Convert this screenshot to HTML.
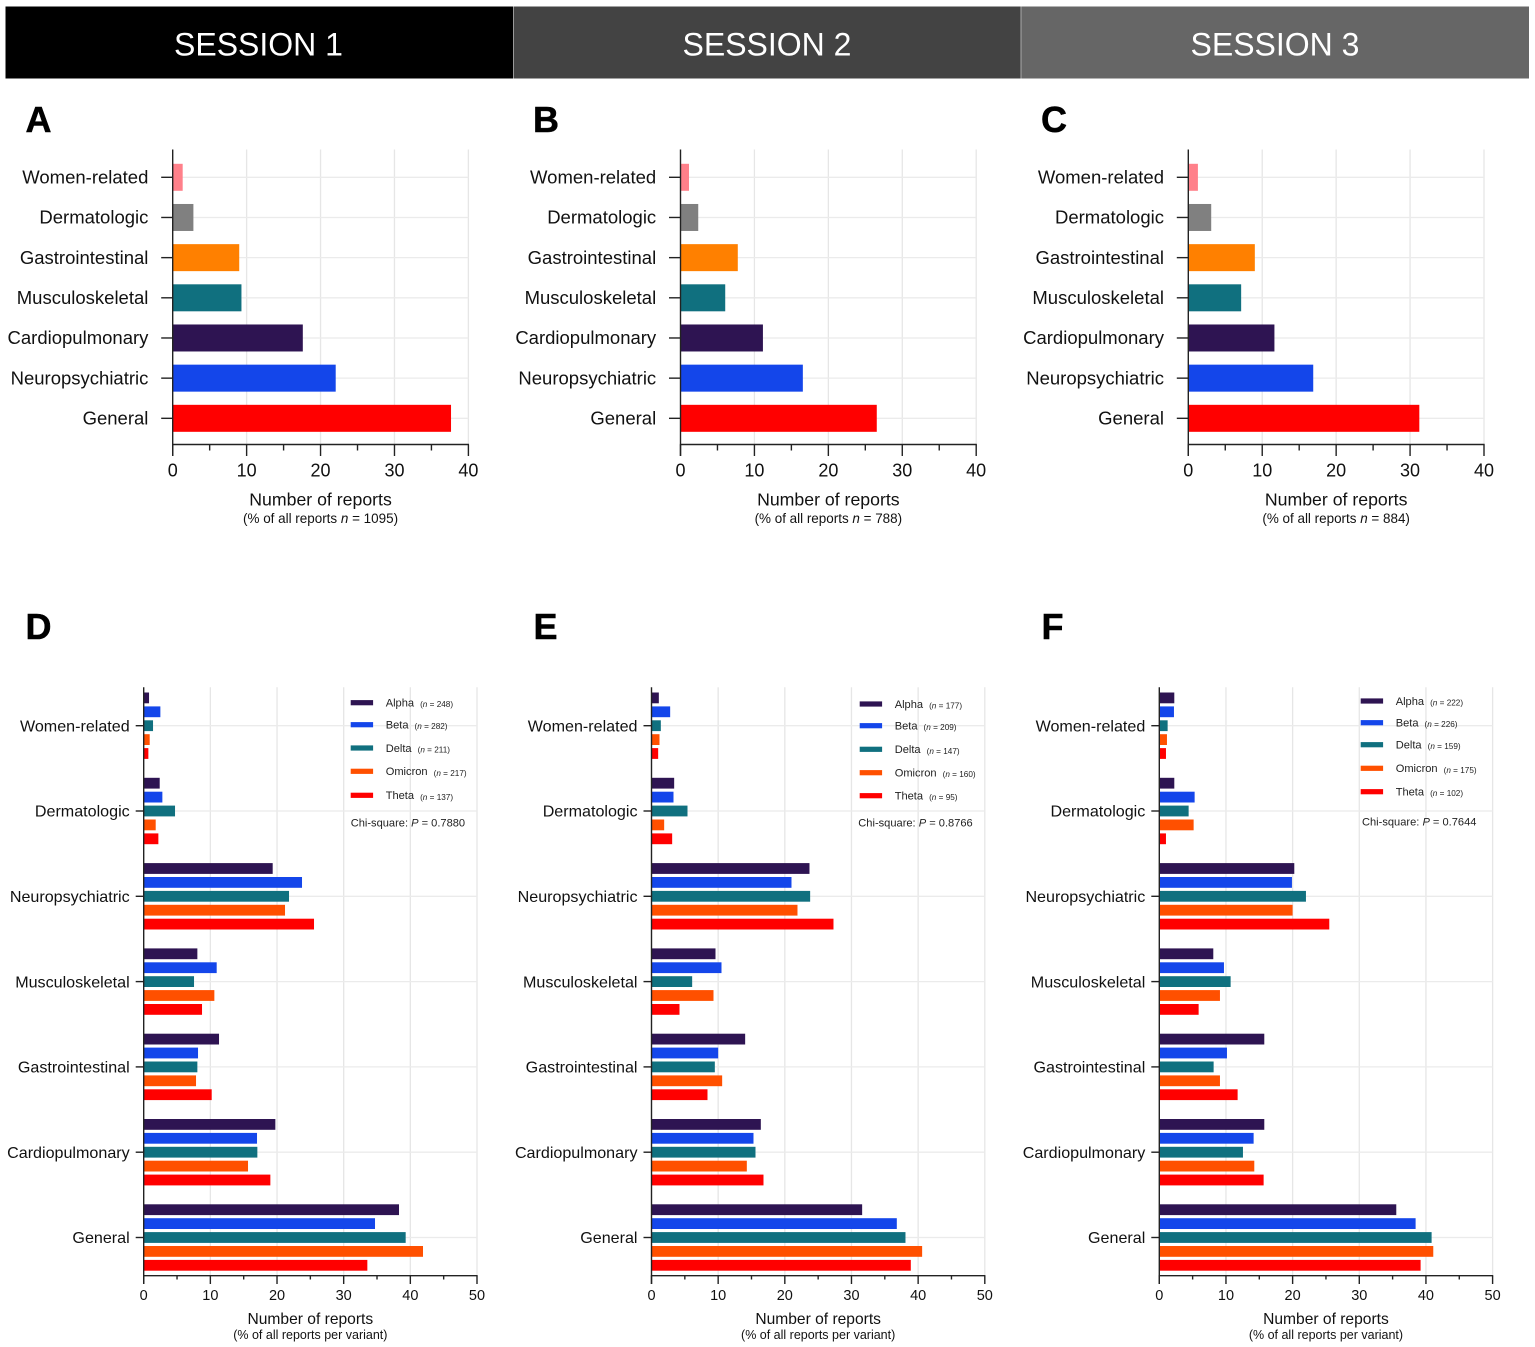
<!DOCTYPE html>
<html lang="en">
<head>
<meta charset="utf-8">
<title>Reports by session and variant</title>
<style>
html,body{margin:0;padding:0;background:#fff;}
svg{display:block;font-family:"Liberation Sans",Arial,sans-serif;filter:blur(0.35px);}
</style>
</head>
<body>
<svg id="figure" xmlns="http://www.w3.org/2000/svg" width="1535" height="1347" viewBox="0 0 1535 1347">
  <rect x="0" y="0" width="1535" height="1347" fill="#ffffff"/>
  <g>
    <rect x="5.5" y="6.5" width="508" height="72" fill="#000000"/>
    <rect x="513.5" y="6.5" width="507.5" height="72" fill="#434343"/>
    <rect x="1021" y="6.5" width="508" height="72" fill="#666666"/>
    <line x1="513.5" y1="6.5" x2="513.5" y2="78.5" stroke="#9a9a9a" stroke-width="1"/>
    <line x1="1021" y1="6.5" x2="1021" y2="78.5" stroke="#a8a8a8" stroke-width="1"/>
    <text x="258.5" y="55.3" font-size="32" fill="#ffffff" text-anchor="middle">SESSION 1</text>
    <text x="767" y="55.3" font-size="32" fill="#ffffff" text-anchor="middle">SESSION 2</text>
    <text x="1275" y="55.3" font-size="32" fill="#ffffff" text-anchor="middle">SESSION 3</text>
  </g>
  <g font-size="36" font-weight="bold" fill="#000000" stroke="#000000" stroke-width="0.5">
    <text x="25.5" y="132">A</text>
    <text x="533" y="132">B</text>
    <text x="1041" y="132">C</text>
    <text x="25.5" y="639">D</text>
    <text x="533.5" y="639">E</text>
    <text x="1041.5" y="639">F</text>
  </g>
</svg>
<script>
// ---- Top row (panels A, B, C) ----
const topCategories = ["Women-related", "Dermatologic", "Gastrointestinal", "Musculoskeletal", "Cardiopulmonary", "Neuropsychiatric", "General"];
const topColors = ["#ff808a", "#808080", "#ff8000", "#10707f", "#2e1452", "#1446ea", "#ff0000"];
const panelAValues = [1.35, 2.8, 9.0, 9.3, 17.6, 22.05, 37.65];
const panelBValues = [1.15, 2.4, 7.75, 6.05, 11.15, 16.55, 26.55];
const panelCValues = [1.3, 3.1, 9.0, 7.15, 11.65, 16.9, 31.25];
const topTicks = [0, 10, 20, 30, 40];
const topMinorTicks = [5, 15, 25, 35];
const topTotals = ["1095", "788", "884"];

// ---- Bottom row (panels D, E, F) ----
const bottomCategories = ["Women-related", "Dermatologic", "Neuropsychiatric", "Musculoskeletal", "Gastrointestinal", "Cardiopulmonary", "General"];
const variantNames = ["Alpha", "Beta", "Delta", "Omicron", "Theta"];
const variantColors = ["#2e1452", "#1446ea", "#10707f", "#ff5000", "#ff0000"];
const bottomTicks = [0, 10, 20, 30, 40, 50];
const bottomMinorTicks = [5, 15, 25, 35, 45];

const panelDAlpha = [0.8, 2.4, 19.35, 8.05, 11.3, 19.75, 38.3];
const panelDBeta = [2.5, 2.8, 23.75, 10.95, 8.15, 17.0, 34.7];
const panelDDelta = [1.4, 4.7, 21.8, 7.55, 8.05, 17.05, 39.3];
const panelDOmicron = [0.9, 1.8, 21.2, 10.6, 7.85, 15.65, 41.9];
const panelDTheta = [0.7, 2.2, 25.55, 8.75, 10.2, 19.0, 33.55];
const panelDCounts = ["248", "282", "211", "217", "137"];
const panelDChi = "0.7880";

const panelEAlpha = [1.1, 3.4, 23.7, 9.6, 14.05, 16.4, 31.6];
const panelEBeta = [2.8, 3.3, 21.0, 10.5, 10.0, 15.3, 36.8];
const panelEDelta = [1.4, 5.4, 23.8, 6.1, 9.5, 15.6, 38.1];
const panelEOmicron = [1.2, 1.9, 21.9, 9.3, 10.6, 14.3, 40.6];
const panelETheta = [1.0, 3.1, 27.3, 4.2, 8.4, 16.8, 38.9];
const panelECounts = ["177", "209", "147", "160", "95"];
const panelEChi = "0.8766";

const panelFAlpha = [2.25, 2.25, 20.25, 8.1, 15.75, 15.75, 35.55];
const panelFBeta = [2.2, 5.3, 19.9, 9.7, 10.15, 14.15, 38.45];
const panelFDelta = [1.25, 4.4, 22.0, 10.7, 8.15, 12.55, 40.85];
const panelFOmicron = [1.15, 5.15, 20.0, 9.1, 9.1, 14.25, 41.1];
const panelFTheta = [1.0, 1.0, 25.5, 5.9, 11.75, 15.65, 39.2];
const panelFCounts = ["222", "226", "159", "175", "102"];
const panelFChi = "0.7644";

const NS = "http://www.w3.org/2000/svg";
const svg = document.getElementById("figure");

function make(parent, tag, attrs, content) {
  const el = document.createElementNS(NS, tag);
  for (const k in attrs) el.setAttribute(k, attrs[k]);
  if (content !== undefined) el.textContent = content;
  parent.appendChild(el);
  return el;
}
function slug(s) { return s.toLowerCase().replace(/[^a-z0-9]+/g, "-"); }

// ---- axis functions ----
const topScale = { max: 40, width: 295.7, top: 149.5, bottom: 444.5, first: 177.3, step: 40.17, bar: 27 };
const bottomScale = { max: 50, width: 333.3, top: 687.3, bottom: 1275.7, first: 725.7, step: 85.3, bar: 10.8, offset: 13.9 };
function xPos(x0, scale, v) { return x0 + (v / scale.max) * scale.width; }
function yCat(scale, i) { return scale.first + i * scale.step; }

function drawFrame(g, x0, scale, cats, ticks, minor, o) {
  const right = x0 + scale.width;
  ticks.slice(1).forEach(function (t) {
    const line = make(g, "line", { x1: xPos(x0, scale, t), x2: xPos(x0, scale, t), y1: scale.top, y2: scale.bottom, stroke: "#e6e6e6", "stroke-width": 1.3 });
    
    
  });
  cats.forEach(function (c, i) {
    const y = yCat(scale, i);
    const line = make(g, "line", { x1: x0, x2: right, y1: y, y2: y, stroke: "#ebebeb", "stroke-width": 1.3 });
    
    
  });
}
function drawAxes(g, x0, scale, cats, ticks, minor, o) {
  const right = x0 + scale.width;
  const yAxis = make(g, "line", { x1: x0, x2: x0, y1: scale.top, y2: scale.bottom + o.major, stroke: "#222", "stroke-width": 1.4 });
  
  
  const xAxis = make(g, "line", { x1: x0 - 0.6, x2: right + 0.6, y1: scale.bottom, y2: scale.bottom, stroke: "#222", "stroke-width": 1.4 });
  
  
  ticks.forEach(function (t) {
    const x = xPos(x0, scale, t);
    const tick = make(g, "line", { x1: x, x2: x, y1: scale.bottom, y2: scale.bottom + o.major, stroke: "#222", "stroke-width": 1.4 });
    
    
    const label = make(g, "text", { x: x, y: o.tickBaseline, "font-size": o.tickFont, "text-anchor": "middle", fill: "#111" }, String(t));
    
    
  });
  minor.forEach(function (t) {
    const x = xPos(x0, scale, t);
    const tick = make(g, "line", { x1: x, x2: x, y1: scale.bottom, y2: scale.bottom + o.minor, stroke: "#222", "stroke-width": 1.4 });
    
    
  });
  cats.forEach(function (c, i) {
    const y = yCat(scale, i);
    const tick = make(g, "line", { x1: x0 - o.yTick, x2: x0, y1: y, y2: y, stroke: "#222", "stroke-width": 1.4 });
    
    
    const label = make(g, "text", { x: x0 - o.labelGap, y: y + o.labelDy, "font-size": o.catFont, "text-anchor": "end", fill: "#111" }, c);
    
    
  });
  const title = make(g, "text", { x: x0 + scale.width / 2, y: o.titleBaseline, "font-size": o.titleFont, "text-anchor": "middle", fill: "#111" }, "Number of reports");
  
  
}

// ---- top panels ----
const topOptions = { major: 11.5, minor: 6, yTick: 11.5, labelGap: 24.3, labelDy: 6.2, catFont: 18.5, tickFont: 18, tickBaseline: 476.7, titleFont: 17.7, titleBaseline: 505.5 };

function drawTopPanel(id, x0, values, total) {
  const g = make(svg, "g", {});
  
  
  drawFrame(g, x0, topScale, topCategories, topTicks, topMinorTicks, topOptions);
  values.forEach(function (v, i) {
    const bar = make(g, "rect", { x: x0, y: yCat(topScale, i) - topScale.bar / 2, width: xPos(x0, topScale, v) - x0, height: topScale.bar, fill: topColors[i] });
    
    
  });
  drawAxes(g, x0, topScale, topCategories, topTicks, topMinorTicks, topOptions);
  const sub = make(g, "text", { x: x0 + topScale.width / 2, y: 523, "font-size": 13.45, "text-anchor": "middle", fill: "#111" });
  
  
  make(sub, "tspan", {}, "(% of all reports ");
  make(sub, "tspan", { "font-style": "italic" }, "n");
  make(sub, "tspan", {}, " = " + total + ")");
}

drawTopPanel("a", 172.7, panelAValues, topTotals[0]);
drawTopPanel("b", 680.5, panelBValues, topTotals[1]);
drawTopPanel("c", 1188.3, panelCValues, topTotals[2]);

// ---- bottom panels ----
const bottomOptions = { major: 8.3, minor: 3.8, yTick: 8, labelGap: 14, labelDy: 5.7, catFont: 16.1, tickFont: 14.5, tickBaseline: 1300, titleFont: 15.6, titleBaseline: 1324 };

function drawBottomPanel(id, x0, series, counts, chi, legend) {
  const g = make(svg, "g", {});
  
  
  drawFrame(g, x0, bottomScale, bottomCategories, bottomTicks, bottomMinorTicks, bottomOptions);
  series.forEach(function (values, s) {
    values.forEach(function (v, i) {
      const cy = yCat(bottomScale, i) + (s - 2) * bottomScale.offset;
      const bar = make(g, "rect", { x: x0, y: cy - bottomScale.bar / 2, width: xPos(x0, bottomScale, v) - x0, height: bottomScale.bar, fill: variantColors[s] });
      
      
    });
  });
  drawAxes(g, x0, bottomScale, bottomCategories, bottomTicks, bottomMinorTicks, bottomOptions);
  const sub = make(g, "text", { x: x0 + bottomScale.width / 2, y: 1339, "font-size": 12.5, "text-anchor": "middle", fill: "#111" }, "(% of all reports per variant)");
  
  

  const lg = make(g, "g", {});
  
  
  variantNames.forEach(function (name, s) {
    const y = legend.rows[s];
    const swatch = make(lg, "rect", { x: legend.swatchX, y: y - 2.6, width: 22.4, height: 5.2, fill: variantColors[s] });
    
    
    const label = make(lg, "text", { x: legend.swatchX + 35, y: y + 3.9, "font-size": 11.1, fill: "#222" });
    
    
    make(label, "tspan", {}, name);
    make(label, "tspan", { dx: 6, dy: 0.6, "font-size": 8.2 }, "(");
    make(label, "tspan", { "font-size": 8.2, "font-style": "italic" }, "n");
    make(label, "tspan", { "font-size": 8.2 }, " = " + counts[s] + ")");
  });
  const chiText = make(lg, "text", { x: legend.chiX, y: legend.chiY, "font-size": 11.1, fill: "#222" });
  
  
  make(chiText, "tspan", {}, "Chi-square: ");
  make(chiText, "tspan", { "font-style": "italic" }, "P");
  make(chiText, "tspan", {}, " = " + chi);
}

drawBottomPanel("d", 143.7, [panelDAlpha, panelDBeta, panelDDelta, panelDOmicron, panelDTheta], panelDCounts, panelDChi,
  { swatchX: 350.7, rows: [702.7, 724.7, 748, 771.3, 795.3], chiX: 350.7, chiY: 826.7 });
drawBottomPanel("e", 651.5, [panelEAlpha, panelEBeta, panelEDelta, panelEOmicron, panelETheta], panelECounts, panelEChi,
  { swatchX: 859.7, rows: [704, 725.7, 749.3, 772.7, 795.7], chiX: 858.3, chiY: 826.7 });
drawBottomPanel("f", 1159.3, [panelFAlpha, panelFBeta, panelFDelta, panelFOmicron, panelFTheta], panelFCounts, panelFChi,
  { swatchX: 1360.7, rows: [701, 722.7, 744.7, 768.3, 791.7], chiX: 1362, chiY: 825.3 });
</script>
</body>
</html>
